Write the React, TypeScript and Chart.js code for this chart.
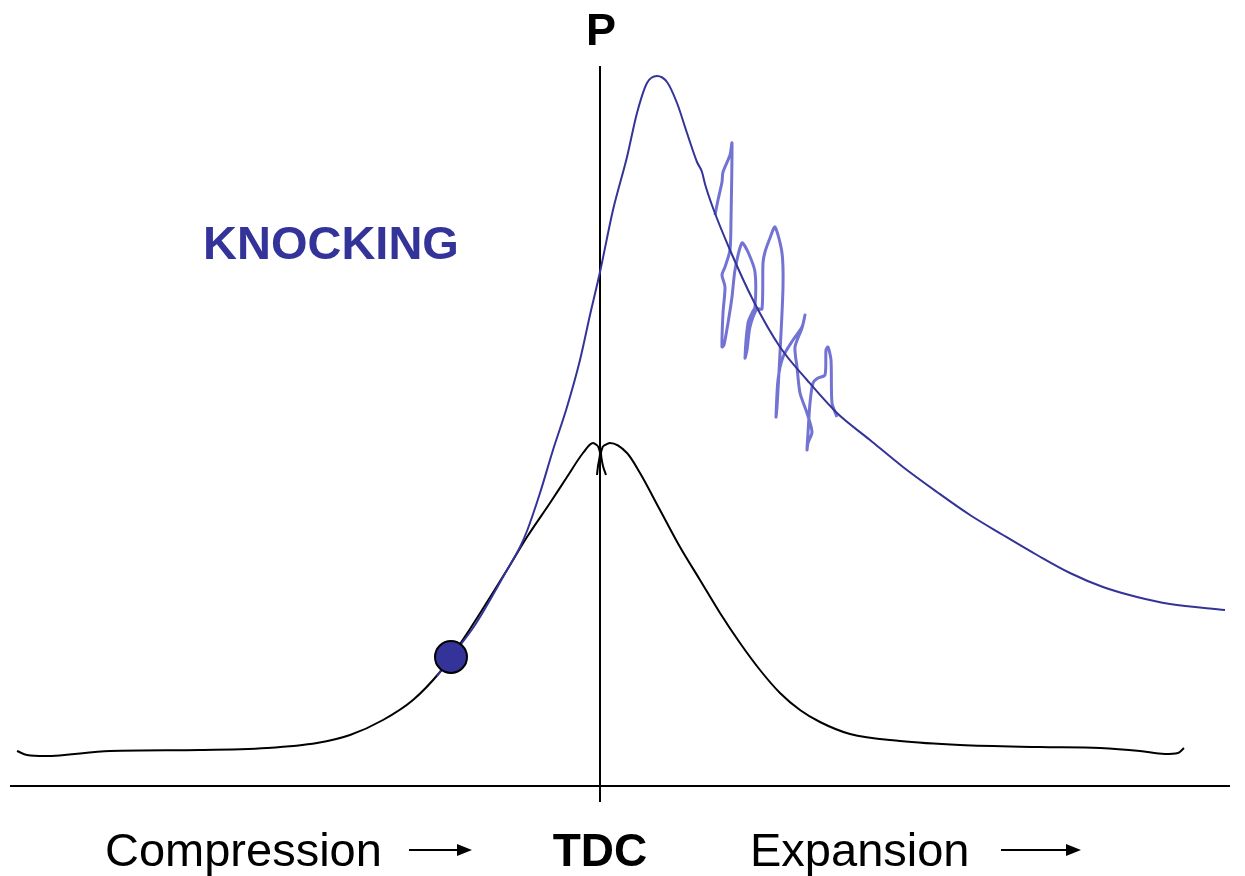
import React, { useEffect, useRef } from "react";
import { Chart, registerables } from "chart.js";

Chart.register(...registerables);

// Crank angle (deg, TDC = 0) vs cylinder pressure (arbitrary units)
const motoringLeftX = [-58.3, -57.3, -55.5, -49.0, -40.0, -33.3, -28.3, -25.0, -21.7, -18.7, -16.0, -14.9, -13.0, -9.3, -7.3, -5.0, -3.3, -1.7, -0.7, -0.2];
const motoringLeftP = [3.5, 3.1, 3.0, 3.5, 3.6, 3.8, 4.3, 5.1, 6.6, 8.6, 11.4, 12.9, 15.7, 21.6, 24.9, 28.3, 30.9, 33.3, 34.3, 34.0];
const cuspLeftX = [-0.2, 0.0, -0.2, -0.3];
const cuspLeftP = [34.0, 33.3, 32.0, 31.1];
const cuspRightX = [0.6, 0.3, 0.1, 0.3];
const cuspRightP = [31.1, 32.0, 33.3, 34.0];
const motoringRightX = [0.3, 1.0, 2.7, 4.0, 6.0, 8.0, 10.0, 12.0, 14.0, 16.0, 18.0, 20.0, 22.0, 25.0, 30.0, 36.0, 44.0, 50.0, 54.0, 56.5, 57.8, 58.4];
const motoringRightP = [34.0, 34.3, 33.3, 31.3, 27.6, 23.9, 20.6, 17.3, 14.3, 11.6, 9.3, 7.6, 6.4, 5.2, 4.5, 4.1, 3.9, 3.8, 3.5, 3.2, 3.3, 3.8];

const knockX = [-16.3, -14.9, -12.5, -9.3, -8.0, -7.3, -6.0, -4.7, -3.3, -2.0, -1.0, 0.0, 1.3, 2.7, 3.7, 4.7, 5.7, 6.7, 7.7, 8.7, 9.7, 10.2, 10.5, 11.3, 13.0, 15.3, 18.0, 20.7, 23.7, 27.0, 30.3, 33.7, 37.0, 40.3, 43.7, 47.0, 50.3, 53.7, 57.0, 62.5];
const knockP = [11.0, 12.9, 16.1, 21.6, 23.9, 25.5, 29.3, 33.6, 37.9, 42.6, 47.1, 51.4, 57.6, 62.9, 67.3, 70.3, 71.0, 70.4, 68.3, 65.3, 62.4, 61.4, 60.2, 57.8, 53.6, 48.6, 43.9, 40.6, 37.3, 34.6, 31.9, 29.4, 27.1, 25.1, 23.1, 21.3, 19.9, 18.9, 18.2, 17.6];

const oscX = [11.5, 11.8, 12.2, 12.3, 13.0, 13.2, 13.1, 13.0, 12.5, 12.2, 12.5, 12.3, 12.2, 12.4, 12.8, 13.2, 13.5, 14.2, 14.8, 15.5, 15.5, 15.2, 14.8, 14.5, 14.7, 15.0, 15.7, 16.2, 16.3, 16.5, 17.0, 17.5, 18.2, 18.3, 18.0, 17.7, 17.6, 17.8, 18.3, 19.3, 20.2, 20.5, 20.2, 19.5, 19.7, 20.0, 20.7, 21.2, 20.8, 20.7, 20.8, 21.0, 21.3, 21.8, 22.5, 22.6, 22.8, 23.1, 23.2, 23.7];
const oscP = [57.1, 58.6, 60.4, 61.4, 63.1, 64.3, 56.6, 53.6, 51.9, 51.1, 49.9, 47.3, 43.9, 44.1, 46.3, 48.9, 51.6, 54.3, 53.4, 51.4, 47.9, 47.3, 46.3, 42.8, 43.6, 45.9, 47.7, 47.7, 52.3, 53.4, 54.8, 55.9, 53.3, 49.9, 43.3, 37.9, 36.9, 40.6, 42.9, 44.6, 45.9, 47.1, 45.8, 43.9, 41.9, 39.3, 37.3, 35.4, 34.3, 33.6, 35.3, 38.3, 40.3, 40.8, 41.1, 43.6, 43.9, 42.6, 38.3, 36.9];

const onsetX = [-14.9];
const onsetP = [12.9];

const axisX = [-59, 63];
const axisTopP = 72;
const axisBottomP = -1.6;

const xLabels = ["Compression", "TDC", "Expansion"];
const yLabel = "P";
const knockLabel = "KNOCKING";

const pts = (xs: number[], ys: number[]) => xs.map((x, i) => ({ x, y: ys[i] }));

const NAVY = "#333399";
const LIGHT = "#7373d3";
const FONT = "'Liberation Sans', Arial, sans-serif";

const blackLine = (label: string, data: any[], smooth: boolean) => ({
  label,
  data,
  borderColor: "#000",
  borderWidth: 2,
  pointRadius: 0,
  ...(smooth ? { cubicInterpolationMode: "monotone" } : { tension: 0.3 }),
  order: 3,
});

export default function App() {
  const ref = useRef<HTMLCanvasElement | null>(null);

  useEffect(() => {
    document.body.style.margin = "0";
    const canvas = ref.current;
    if (!canvas) return;

    const annotate = {
      id: "annotate",
      beforeDatasetsDraw(chart: any) {
        const { ctx } = chart;
        const xs = chart.scales.x;
        const ys = chart.scales.y;
        ctx.save();
        ctx.strokeStyle = "#000";
        ctx.lineWidth = 2;
        ctx.beginPath();
        ctx.moveTo(xs.getPixelForValue(axisX[0]), ys.getPixelForValue(0));
        ctx.lineTo(xs.getPixelForValue(axisX[1]), ys.getPixelForValue(0));
        ctx.stroke();
        ctx.beginPath();
        ctx.moveTo(xs.getPixelForValue(0), ys.getPixelForValue(axisTopP));
        ctx.lineTo(xs.getPixelForValue(0), ys.getPixelForValue(axisBottomP));
        ctx.stroke();
        ctx.restore();
      },
      afterDraw(chart: any) {
        const { ctx } = chart;
        const xs = chart.scales.x;
        const tdc = xs.getPixelForValue(0);
        ctx.save();
        ctx.fillStyle = "#000";
        ctx.textBaseline = "alphabetic";
        ctx.font = `bold 45px ${FONT}`;
        ctx.textAlign = "center";
        ctx.fillText(yLabel, tdc + 1, 45);
        ctx.fillStyle = NAVY;
        ctx.font = `bold 47px ${FONT}`;
        ctx.textAlign = "left";
        ctx.fillText(knockLabel, 203, 259);
        ctx.fillStyle = "#000";
        ctx.font = `47px ${FONT}`;
        ctx.fillText(xLabels[0], 105, 866);
        ctx.font = `bold 46px ${FONT}`;
        ctx.textAlign = "center";
        ctx.fillText(xLabels[1], tdc, 866);
        ctx.font = `47px ${FONT}`;
        ctx.textAlign = "left";
        ctx.fillText(xLabels[2], 750, 866);
        const arrow = (x0: number, x1: number, y: number) => {
          ctx.strokeStyle = "#000";
          ctx.lineWidth = 2;
          ctx.beginPath();
          ctx.moveTo(x0, y);
          ctx.lineTo(x1 - 8, y);
          ctx.stroke();
          ctx.beginPath();
          ctx.moveTo(x1, y);
          ctx.lineTo(x1 - 15, y - 6);
          ctx.lineTo(x1 - 15, y + 6);
          ctx.closePath();
          ctx.fill();
        };
        arrow(409, 472, 850);
        arrow(1001, 1081, 850);
        ctx.restore();
      },
    };

    const chart = new Chart(canvas, {
      type: "line",
      data: {
        datasets: [
          {
            label: "onset",
            data: pts(onsetX, onsetP),
            showLine: false,
            pointRadius: 16,
            pointBackgroundColor: NAVY,
            pointBorderColor: "#000",
            pointBorderWidth: 2,
            order: 0,
          },
          {
            label: "knocking",
            data: pts(knockX, knockP),
            borderColor: NAVY,
            borderWidth: 2,
            pointRadius: 0,
            cubicInterpolationMode: "monotone",
            order: 1,
          },
          {
            label: "oscillation",
            data: pts(oscX, oscP),
            borderColor: LIGHT,
            borderWidth: 3,
            pointRadius: 0,
            tension: 0.25,
            order: 2,
          },
          blackLine("motoring-left", pts(motoringLeftX, motoringLeftP), true),
          blackLine("cusp-left", pts(cuspLeftX, cuspLeftP), false),
          blackLine("cusp-right", pts(cuspRightX, cuspRightP), false),
          blackLine("motoring-right", pts(motoringRightX, motoringRightP), true),
        ] as any,
      },
      options: {
        animation: false,
        responsive: false,
        events: [],
        layout: { padding: 0, autoPadding: false },
        plugins: { legend: { display: false }, tooltip: { enabled: false }, title: { display: false } },
        scales: {
          x: { type: "linear", min: -60, max: 64.5, display: false },
          y: { type: "linear", min: -9, max: 78.6, display: false },
        },
      },
      plugins: [annotate],
    });

    return () => chart.destroy();
  }, []);

  return (
    <div style={{ width: 1245, height: 876, background: "#fff" }}>
      <canvas ref={ref} width={1245} height={876} style={{ display: "block" }} />
    </div>
  );
}
